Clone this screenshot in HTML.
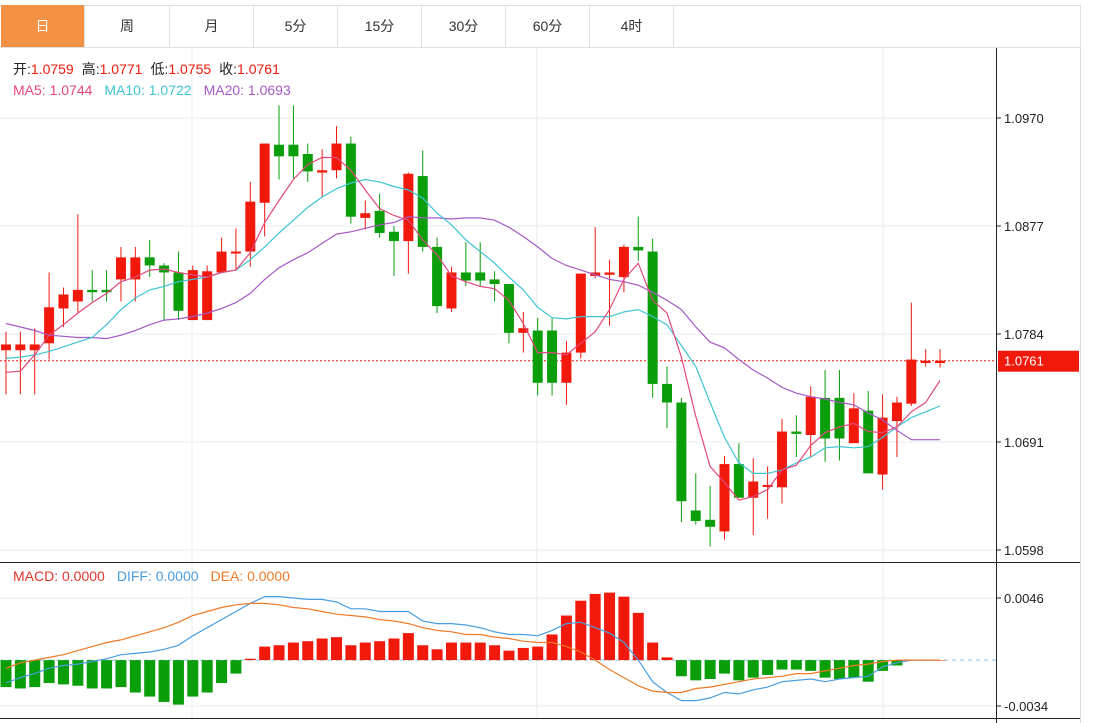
<!DOCTYPE html>
<html><head><meta charset="utf-8"><style>
body{margin:0;background:#fff;width:1093px;height:723px;overflow:hidden;font-family:"Liberation Sans","Noto Sans CJK SC",sans-serif}
.tab{position:absolute;top:5px;height:42px;line-height:42px;text-align:center;font-size:14px;color:#333;border-right:1px solid #e0e0e0;box-sizing:border-box}
</style></head><body>
<div style="position:absolute;left:0;top:5px;width:1081px;height:43px;border:1px solid #e0e0e0;border-left:none;box-sizing:border-box"></div>
<div class="tab" style="left:1px;width:84px;background:#f39244;color:#fff">日</div>
<div class="tab" style="left:85px;width:85px">周</div>
<div class="tab" style="left:170px;width:84px">月</div>
<div class="tab" style="left:254px;width:84px">5分</div>
<div class="tab" style="left:338px;width:84px">15分</div>
<div class="tab" style="left:422px;width:84px">30分</div>
<div class="tab" style="left:506px;width:84px">60分</div>
<div class="tab" style="left:590px;width:84px">4时</div>
<svg id="c" width="1093" height="723" style="position:absolute;left:0;top:0" font-family="Liberation Sans, Noto Sans CJK SC, sans-serif"></svg>
<script>
const opens=[1.0770,1.0770,1.0770,1.0776,1.0806,1.0812,1.0822,1.0822,1.0831,1.0831,1.0850,1.0843,1.0837,1.0796,1.0796,1.0837,1.0854,1.0855,1.0897,1.0947,1.0947,1.0939,1.0923,1.0925,1.0948,1.0884,1.0890,1.0872,1.0864,1.0920,1.0859,1.0806,1.0837,1.0837,1.0831,1.0827,1.0785,1.0787,1.0787,1.0742,1.0768,1.0834,1.0835,1.0833,1.0859,1.0855,1.0741,1.0725,1.0632,1.0624,1.0614,1.0672,1.0643,1.0653,1.0652,1.0700,1.0697,1.0729,1.0729,1.0690,1.0718,1.0663,1.0709,1.0724,1.0759,1.0759];
const closes=[1.0775,1.0775,1.0775,1.0807,1.0818,1.0822,1.0820,1.0820,1.0850,1.0850,1.0843,1.0837,1.0804,1.0839,1.0838,1.0855,1.0855,1.0898,1.0948,1.0937,1.0937,1.0924,1.0925,1.0948,1.0885,1.0888,1.0871,1.0864,1.0922,1.0859,1.0808,1.0837,1.0830,1.0830,1.0827,1.0785,1.0789,1.0742,1.0742,1.0768,1.0836,1.0837,1.0837,1.0859,1.0856,1.0741,1.0725,1.0640,1.0623,1.0618,1.0672,1.0643,1.0657,1.0654,1.0700,1.0698,1.0730,1.0694,1.0694,1.0720,1.0664,1.0712,1.0725,1.0762,1.0761,1.0761];
const highs=[1.0786,1.0786,1.0789,1.0837,1.0824,1.0887,1.0839,1.0839,1.0859,1.0859,1.0865,1.0845,1.0855,1.0843,1.0843,1.0867,1.0875,1.0915,1.0948,1.0981,1.0981,1.0948,1.0943,1.0963,1.0954,1.0899,1.0905,1.0877,1.0923,1.0942,1.0867,1.0842,1.0863,1.0863,1.0838,1.0827,1.0803,1.0798,1.0798,1.0778,1.0836,1.0876,1.0848,1.0861,1.0885,1.0866,1.0756,1.0729,1.0664,1.0653,1.0679,1.0690,1.0677,1.0670,1.0711,1.0714,1.0739,1.0753,1.0753,1.0733,1.0735,1.0732,1.0730,1.0811,1.0771,1.0771];
const lows=[1.0732,1.0732,1.0732,1.0762,1.0790,1.0802,1.0812,1.0812,1.0812,1.0812,1.0833,1.0796,1.0796,1.0796,1.0796,1.0837,1.0839,1.0842,1.0868,1.0917,1.0918,1.0915,1.0902,1.0918,1.0879,1.0874,1.0867,1.0834,1.0836,1.0855,1.0802,1.0803,1.0825,1.0825,1.0812,1.0776,1.0768,1.0731,1.0731,1.0723,1.0763,1.0832,1.0791,1.0820,1.0847,1.0729,1.0703,1.0622,1.0620,1.0601,1.0607,1.0643,1.0611,1.0625,1.0638,1.0678,1.0678,1.0674,1.0675,1.0690,1.0664,1.0650,1.0678,1.0722,1.0756,1.0755];
const ma5=[1.0751,1.0752,1.0766,1.0783,1.0792,1.0802,1.0811,1.0819,1.0829,1.0833,1.0839,1.0840,1.0837,1.0835,1.0833,1.0837,1.0839,1.0854,1.0880,1.0899,1.0917,1.0930,1.0936,1.0936,1.0925,1.0908,1.0892,1.0886,1.0882,1.0865,1.0852,1.0834,1.0829,1.0825,1.0823,1.0813,1.0793,1.0768,1.0768,1.0766,1.0776,1.0786,1.0805,1.0831,1.0845,1.0813,1.0802,1.0764,1.0713,1.0670,1.0656,1.0641,1.0644,1.0650,1.0667,1.0671,1.0688,1.0699,1.0704,1.0707,1.0700,1.0699,1.0704,1.0717,1.0725,1.0744];
const ma10=[1.0763,1.0764,1.0766,1.0769,1.0773,1.0777,1.0781,1.0792,1.0805,1.0815,1.0822,1.0825,1.0829,1.0831,1.0833,1.0837,1.0839,1.0848,1.0859,1.0871,1.0882,1.0893,1.0902,1.0909,1.0914,1.0917,1.0915,1.0911,1.0908,1.0901,1.0888,1.0878,1.0865,1.0855,1.0845,1.0833,1.0822,1.0807,1.0798,1.0797,1.0799,1.0799,1.0799,1.0803,1.0805,1.0799,1.0792,1.0774,1.0756,1.0725,1.0695,1.0673,1.0664,1.0664,1.0667,1.0673,1.0678,1.0686,1.0687,1.0686,1.0687,1.0695,1.0704,1.0712,1.0717,1.0722];
const ma20=[1.0793,1.0790,1.0787,1.0783,1.0782,1.0781,1.0781,1.0780,1.0783,1.0787,1.0792,1.0796,1.0797,1.0799,1.0802,1.0806,1.0811,1.0819,1.0831,1.0841,1.0848,1.0854,1.0862,1.0870,1.0872,1.0875,1.0878,1.0880,1.0885,1.0884,1.0884,1.0883,1.0884,1.0884,1.0882,1.0876,1.0868,1.0859,1.0849,1.0843,1.0839,1.0835,1.0831,1.0829,1.0826,1.0820,1.0813,1.0805,1.0790,1.0777,1.0772,1.0762,1.0753,1.0746,1.0738,1.0733,1.0730,1.0728,1.0725,1.0723,1.0716,1.0710,1.0701,1.0693,1.0693,1.0693];
const macdBars=[-20,-21,-20,-17,-18,-19,-21,-21,-20,-24,-27,-31,-33,-27,-24,-17,-10,1,10,11,13,14,16,17,11,13,14,16,20,11,8,13,13,13,11,7,9,10,19,33,44,49,50,47,35,13,2,-12,-15,-14,-10,-15,-13,-11,-7,-7,-8,-13,-14,-13,-16,-8,-4,0,0,0].map(v=>v/10000);
const diffLine=[-17,-13,-10,-6,-4,-3,-1,1,4,5,6,8,11,18,24,30,36,42,47,47,46,45,45,43,38,38,36,36,36,29,27,27,26,24,21,19,19,18,22,27,28,24,20,13,0,-16,-24,-30,-30,-28,-24,-25,-22,-20,-16,-15,-14,-16,-14,-13,-12,-5,-2,0,0,0].map(v=>v/10000);
const deaLine=[-6,-2,0,2,4,7,10,13,15,18,21,24,28,33,36,39,41,42,42,41,39,38,36,34,33,32,30,29,27,24,22,21,19,19,17,16,14,13,13,10,6,0,-7,-13,-19,-23,-24,-24,-21,-20,-18,-16,-14,-13,-12,-10,-10,-8,-6,-4,-3,-1,0,0,0,0].map(v=>v/10000);
const priceTicks=[1.0970,1.0877,1.0784,1.0691,1.0598];
const macdTicks=[0.0046,-0.0034];
const lastPrice=1.0761;

const svg=document.getElementById('c');
const NS='http://www.w3.org/2000/svg';
function mk(tag,attrs,parent){const e=document.createElementNS(NS,tag);for(const k in attrs)e.setAttribute(k,attrs[k]);(parent||svg).appendChild(e);return e;}
const X=i=>6+i*14.37;
const Y=p=>118+(1.0970-p)*(432/(1.0970-1.0598));
const MY=v=>598+(0.0046-v)*(108/0.008);
const RED='#f0190b',GREEN='#0b9e0b';

// frame & grid
let g=mk('g',{});


[192,537,883].forEach(x=>mk('line',{x1:x,y1:48,x2:x,y2:718,stroke:'#e6edf3','stroke-width':1},g));
priceTicks.forEach(p=>mk('line',{x1:0,y1:Y(p),x2:996,y2:Y(p),stroke:'#e6edf3'},g));
macdTicks.forEach(v=>mk('line',{x1:0,y1:MY(v),x2:996,y2:MY(v),stroke:'#e6edf3'},g));
mk('line',{x1:1080.5,y1:48,x2:1080.5,y2:723,stroke:'#dcdcdc'});
mk('line',{x1:0,y1:562.5,x2:1080,y2:562.5,stroke:'#222'});
mk('line',{x1:0,y1:718.5,x2:1080,y2:718.5,stroke:'#222'});
const ax=mk('line',{x1:996.5,y1:48,x2:996.5,y2:723,stroke:'#222'});



// axis ticks
priceTicks.forEach(p=>{const y=Y(p);mk('line',{x1:997,y1:y,x2:1001,y2:y,stroke:'#222'});
 const t=mk('text',{x:1004,y:y+5,'font-size':13,fill:'#222'});t.textContent=p.toFixed(4);
 
 });
macdTicks.forEach(v=>{const y=MY(v);mk('line',{x1:997,y1:y,x2:1001,y2:y,stroke:'#222'});
 const t=mk('text',{x:1004,y:y+5,'font-size':13,fill:'#222'});t.textContent=v.toFixed(4);
 
 });

// last price line
const ly=Y(lastPrice);
mk('line',{x1:0,y1:ly,x2:996,y2:ly,stroke:RED,'stroke-dasharray':'2,2'});
const lb=mk('rect',{x:998,y:ly-10,width:81,height:21,fill:RED});


const lt=mk('text',{x:1004,y:ly+5,'font-size':13,fill:'#fff'});lt.textContent=lastPrice.toFixed(4);

// zero line macd
mk('line',{x1:0,y1:MY(0),x2:996,y2:MY(0),stroke:'#8cc4ea','stroke-dasharray':'4,4'});

// candles
opens.forEach((o,i)=>{const c=closes[i],x=X(i),up=c>=o,col=up?RED:GREEN;
 const cg=mk('g',{});
 
 
 mk('line',{x1:x,y1:Y(highs[i]),x2:x,y2:Y(lows[i]),stroke:col,'stroke-width':1},cg);
 const t=Y(Math.max(o,c)),b=Y(Math.min(o,c));
 mk('rect',{x:x-5,y:t,width:10,height:Math.max(b-t,2),fill:col},cg);
});
function line(arr,f,col,name){let d=arr.map((v,i)=>(i?'L':'M')+X(i).toFixed(1)+','+f(v).toFixed(1)).join('');
 const p=mk('path',{d:d,fill:'none',stroke:col,'stroke-width':1.2});
 
 }
line(ma20,Y,'#a659c6','ma20-line');
line(ma10,Y,'#3fc4d4','ma10-line');
line(ma5,Y,'#e2487e','ma5-line');

// macd bars
macdBars.forEach((v,i)=>{const y0=MY(0),y1=MY(v);
 const r=mk('rect',{x:X(i)-5.5,y:Math.min(y0,y1),width:11,height:Math.max(Math.abs(y1-y0),0.5),fill:v>=0?RED:GREEN});
 
 });
line(diffLine,MY,'#4a9de0','diff-line');
line(deaLine,MY,'#f07a28','dea-line');

// legends
function txt(parts,x,y,name){const t=mk('text',{x:x,y:y,'font-size':14});
 
 
 parts.forEach(([s,c,dx])=>{const sp=mk('tspan',{fill:c},t);if(dx)sp.setAttribute('dx',dx);sp.textContent=s;});}
txt([['开:','#222'],['1.0759',RED],['高:','#222',8],['1.0771',RED],['低:','#222',8],['1.0755',RED],['收:','#222',8],['1.0761',RED]],13,74,'ohlc-legend');
txt([['MA5: 1.0744','#e2487e'],['MA10: 1.0722','#3fc4d4',12],['MA20: 1.0693','#a659c6',12]],13,95,'ma-legend');
txt([['MACD: 0.0000','#e0352b'],['DIFF: 0.0000','#4a9de0',12],['DEA: 0.0000','#f07a28',12]],13,581,'macd-legend');
</script>
</body></html>
